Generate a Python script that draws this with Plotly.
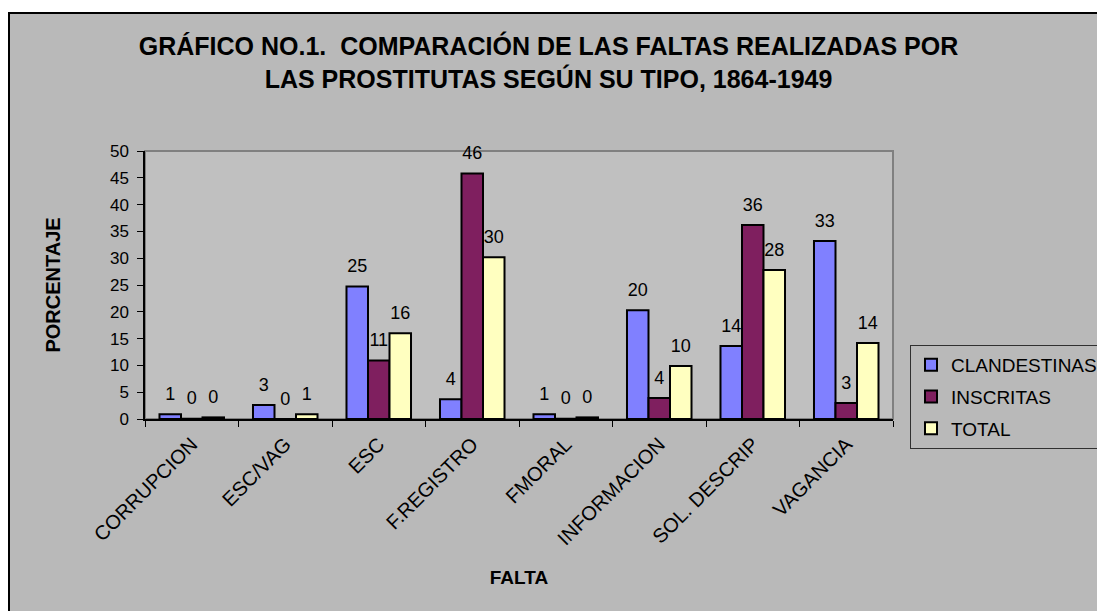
import plotly.graph_objects as go

categories = ["CORRUPCION", "ESC/VAG", "ESC", "F.REGISTRO", "FMORAL",
              "INFORMACION", "SOL. DESCRIP", "VAGANCIA"]
clandestinas = [0.9, 2.6, 24.7, 3.7, 0.9, 20.3, 13.6, 33.2]
inscritas = [0.05, 0.0, 10.9, 45.8, 0.05, 3.9, 36.2, 3.0]
total = [0.3, 0.9, 16.0, 30.2, 0.3, 9.9, 27.8, 14.2]
y_ticks = [0, 5, 10, 15, 20, 25, 30, 35, 40, 45, 50]

FONT = "Liberation Sans, Arial, sans-serif"
W, H = 1097, 611
L, R, T, B = 145, 204, 151, 192
pw, ph = W - L - R, H - T - B


def px_x(p):
    return (p - L) / pw


def px_y(p):
    return (H - B - p) / ph


series = [
    ("CLANDESTINAS", clandestinas, "#8080FF"),
    ("INSCRITAS", inscritas, "#7F1F5F"),
    ("TOTAL", total, "#FFFFC0"),
]

fig = go.Figure()
for name, vals, col in series:
    fig.add_trace(go.Bar(
        name=name, x=categories, y=vals,
        marker=dict(color=col, line=dict(color="black", width=2)),
        legendgroup=name, offsetgroup=name, hoverinfo="skip",
    ))
# data labels, offset above the bars like the original
for name, vals, col in series:
    fig.add_trace(go.Scatter(
        x=categories, y=vals, mode="markers+text",
        texttemplate="%{y:.0f}", textposition="top center",
        textfont=dict(family=FONT, size=18, color="black"),
        marker=dict(size=14, color="rgba(0,0,0,0)"),
        offsetgroup=name, showlegend=False, hoverinfo="skip",
        cliponaxis=False,
    ))

fig.update_layout(
    width=W, height=H,
    margin=dict(l=L, r=R, t=T, b=B, autoexpand=False),
    paper_bgcolor="white",
    plot_bgcolor="rgba(0,0,0,0)",
    barmode="group", bargap=0.31, bargroupgap=0,
    scattermode="group", scattergap=0.31,
    font=dict(family=FONT, size=16, color="black"),
    title=dict(
        text="GRÁFICO NO.1.  COMPARACIÓN DE LAS FALTAS REALIZADAS POR<br>"
             "LAS PROSTITUTAS SEGÚN SU TIPO, 1864-1949",
        font=dict(family=FONT, size=25, color="black", weight="bold"),
        x=0.5, xref="container", xanchor="center",
        y=1 - 55 / H, yref="container", yanchor="top",
    ),
    xaxis=dict(
        type="category", tickangle=-45,
        tickfont=dict(family=FONT, size=20, color="black"),
        showline=True, linecolor="black", linewidth=1.5,
        ticks="outside", tickson="boundaries", ticklen=6,
        tickcolor="black", tickwidth=1, ticklabelstandoff=4,
        showgrid=False, automargin=False,
        title=dict(text="<b>FALTA</b>", font=dict(family=FONT, size=19),
                   standoff=22),
    ),
    yaxis=dict(
        range=[0, 50], tickvals=y_ticks, showgrid=False, zeroline=False,
        tickfont=dict(family=FONT, size=17, color="black"),
        showline=True, linecolor="black", linewidth=1.5,
        ticks="outside", ticklen=6, tickcolor="black", tickwidth=1,
        ticklabelstandoff=5, automargin=False,
        title=dict(text="<b>PORCENTAJE</b>", font=dict(family=FONT, size=20),
                   standoff=44),
    ),
    legend=dict(
        x=px_x(910), y=px_y(345), xanchor="left", yanchor="top",
        bgcolor="#B9B9B9", bordercolor="#303030", borderwidth=1,
        font=dict(family=FONT, size=19, color="black"),
        traceorder="grouped", tracegroupgap=4,
    ),
    shapes=[
        dict(type="rect", xref="paper", yref="paper",
             x0=px_x(9), x1=px_x(1110), y0=px_y(620), y1=px_y(13),
             fillcolor="#B9B9B9", line=dict(color="black", width=2),
             layer="below"),
        dict(type="rect", xref="paper", yref="paper",
             x0=0, x1=1, y0=0, y1=1,
             fillcolor="#C0C0C0", line=dict(color="#808080", width=2),
             layer="below"),
    ],
)

fig.write_html(
    "out.html",
    config={"displayModeBar": False},
    post_script="document.body.style.margin='0';"
                "document.body.style.overflow='hidden';",
)
